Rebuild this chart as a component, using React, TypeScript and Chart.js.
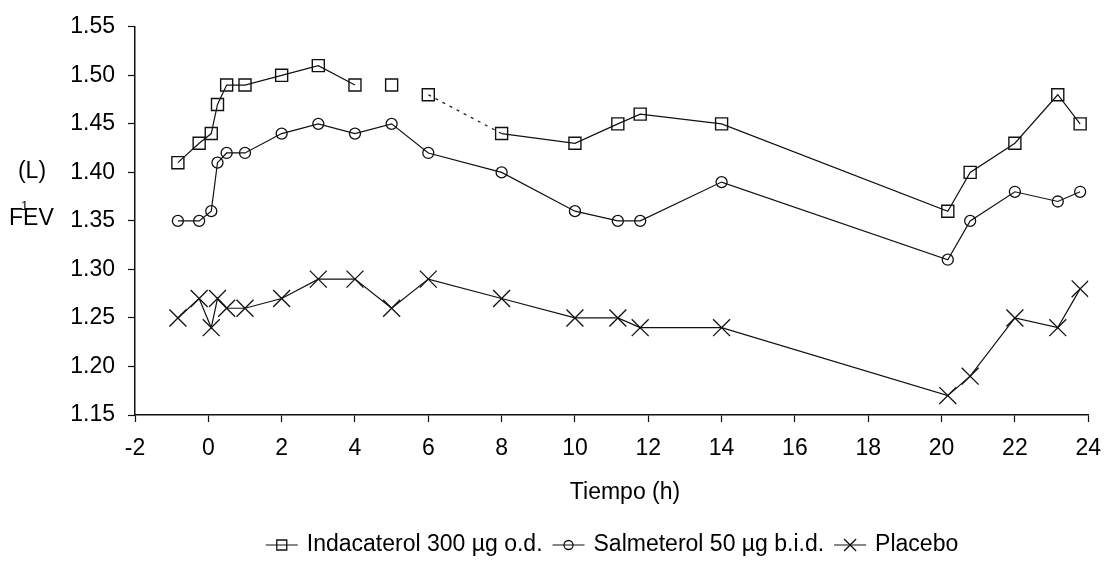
import React, { useEffect, useRef } from 'react';
import { Chart, registerables } from 'chart.js';

Chart.register(...registerables);

// ---- data ----
const timeHours = [-0.83, -0.25, 0.08, 0.25, 0.5, 1, 2, 3, 4, 5, 6, 8, 10, 11.17, 11.78, 14, 20.17, 20.78, 22, 23.17, 23.78];
const indacaterol = [1.41, 1.43, 1.44, 1.47, 1.49, 1.49, 1.5, 1.51, 1.49, 1.49, 1.48, 1.44, 1.43, 1.45, 1.46, 1.45, 1.36, 1.4, 1.43, 1.48, 1.45];
const salmeterol = [1.35, 1.35, 1.36, 1.41, 1.42, 1.42, 1.44, 1.45, 1.44, 1.45, 1.42, 1.4, 1.36, 1.35, 1.35, 1.39, 1.31, 1.35, 1.38, 1.37, 1.38];
const placebo = [1.25, 1.27, 1.24, 1.27, 1.26, 1.26, 1.27, 1.29, 1.29, 1.26, 1.29, 1.27, 1.25, 1.25, 1.24, 1.24, 1.17, 1.19, 1.25, 1.24, 1.28];
const seriesLabels = ['Indacaterol 300 µg o.d.', 'Salmeterol 50 µg b.i.d.', 'Placebo'];
const xAxisMin = -2;
const xAxisMax = 24;
const xAxisStep = 2;
const yAxisMin = 1.15;
const yAxisMax = 1.55;
const yAxisStep = 0.05;
const xTitle = 'Tiempo (h)';
const yTitleUnit = '(L)';
const yTitleMain = 'FEV';
const yTitleSub = '1';

const FONT = '"Liberation Sans", Arial, sans-serif';
const FS = 23;
const INK = '#111';

function toPoints(ys: number[]) {
  return ys.map((y, i) => ({ x: timeHours[i], y }));
}

function drawMarker(ctx: CanvasRenderingContext2D, style: string, x: number, y: number, s: number) {
  ctx.beginPath();
  if (style === 'rect') {
    ctx.rect(x - s / 2, y - s / 2, s, s);
  } else if (style === 'circle') {
    ctx.arc(x, y, s / 2, 0, Math.PI * 2);
  } else {
    const h = s / 2;
    ctx.moveTo(x - h, y - h);
    ctx.lineTo(x + h, y + h);
    ctx.moveTo(x + h, y - h);
    ctx.lineTo(x - h, y + h);
  }
  ctx.stroke();
}

const annotationsPlugin = {
  id: 'annotations',
  afterDraw(chart: any) {
    const ctx: CanvasRenderingContext2D = chart.ctx;
    ctx.save();
    ctx.fillStyle = '#000';
    ctx.strokeStyle = INK;

    // y-axis title
    ctx.font = `${FS}px ${FONT}`;
    ctx.textBaseline = 'middle';
    ctx.textAlign = 'center';
    ctx.fillText(yTitleUnit, 32, 172);
    ctx.textAlign = 'left';
    ctx.fillText(yTitleMain, 9, 219);
    ctx.font = `13px ${FONT}`;
    ctx.fillText(yTitleSub, 21, 206);

    // x-axis title
    ctx.font = `${FS}px ${FONT}`;
    ctx.textAlign = 'center';
    ctx.fillText(xTitle, 625, 493);

    // legend
    const glyphW = 32;
    const textGap = 9;
    const itemGap = 10;
    const styles = ['rect', 'circle', 'cross'];
    const sizes = [10, 9, 12];
    ctx.font = `${FS}px ${FONT}`;
    const widths = seriesLabels.map((l) => ctx.measureText(l).width);
    const total = widths.reduce((a, b) => a + b, 0) + seriesLabels.length * (glyphW + textGap) + (seriesLabels.length - 1) * itemGap;
    let x = 612 - total / 2;
    const ly = 545;
    ctx.textAlign = 'left';
    seriesLabels.forEach((label, i) => {
      ctx.lineWidth = 1.2;
      ctx.beginPath();
      ctx.moveTo(x, ly);
      ctx.lineTo(x + glyphW, ly);
      ctx.stroke();
      ctx.lineWidth = 1.3;
      drawMarker(ctx, styles[i], x + glyphW / 2, ly, sizes[i]);
      x += glyphW + textGap;
      ctx.fillText(label, x, ly);
      x += widths[i] + itemGap;
    });
    ctx.restore();
  },
};

export default function App() {
  const canvasRef = useRef<HTMLCanvasElement | null>(null);

  useEffect(() => {
    if (!canvasRef.current) return;
    const chart = new Chart(canvasRef.current, {
      type: 'line',
      data: {
        datasets: [
          {
            label: seriesLabels[0],
            data: toPoints(indacaterol),
            borderColor: INK,
            borderWidth: 1.2,
            pointStyle: 'rect',
            pointRadius: 8.5,
            pointBorderWidth: 1.4,
            pointBorderColor: INK,
            pointBackgroundColor: 'rgba(0,0,0,0)',
            segment: {
              borderColor: (c: any) => (c.p0DataIndex === 8 || c.p0DataIndex === 9 ? 'rgba(0,0,0,0)' : undefined),
              borderDash: (c: any) => (c.p0DataIndex === 10 ? [3, 5] : undefined),
            },
          },
          {
            label: seriesLabels[1],
            data: toPoints(salmeterol),
            borderColor: INK,
            borderWidth: 1.2,
            pointStyle: 'circle',
            pointRadius: 5.5,
            pointBorderWidth: 1.3,
            pointBorderColor: INK,
            pointBackgroundColor: 'rgba(0,0,0,0)',
          },
          {
            label: seriesLabels[2],
            data: toPoints(placebo),
            borderColor: INK,
            borderWidth: 1.2,
            pointStyle: 'crossRot',
            pointRadius: 12,
            pointBorderWidth: 1.3,
            pointBorderColor: INK,
          },
        ],
      },
      options: {
        animation: false,
        responsive: true,
        maintainAspectRatio: false,
        layout: { padding: { left: 0, top: 22, right: 17, bottom: 0 } },
        plugins: {
          legend: { display: false },
          tooltip: { enabled: false },
        },
        scales: {
          x: {
            type: 'linear',
            min: xAxisMin,
            max: xAxisMax,
            afterFit: (scale: any) => {
              scale.height = 146;
            },
            ticks: {
              stepSize: xAxisStep,
              color: '#000',
              font: { family: FONT, size: FS },
              padding: 13,
              maxRotation: 0,
              autoSkip: false,
            },
            grid: {
              drawOnChartArea: false,
              drawTicks: true,
              tickLength: 7,
              tickColor: INK,
              tickWidth: 1.2,
            },
            border: { display: true, color: INK, width: 1.5 },
          },
          y: {
            type: 'linear',
            min: yAxisMin,
            max: yAxisMax,
            afterFit: (scale: any) => {
              scale.width = 135;
            },
            ticks: {
              stepSize: yAxisStep,
              color: '#000',
              font: { family: FONT, size: FS },
              padding: 13,
              callback: (v: any) => Number(v).toFixed(2),
            },
            grid: {
              drawOnChartArea: false,
              drawTicks: true,
              tickLength: 7,
              tickColor: INK,
              tickWidth: 1.2,
            },
            border: { display: true, color: INK, width: 1.5 },
          },
        },
      },
      plugins: [annotationsPlugin],
    });
    return () => chart.destroy();
  }, []);

  return (
    <div style={{ position: 'fixed', left: 0, top: 0, width: 1114, height: 561, background: '#fff' }}>
      <canvas ref={canvasRef} />
    </div>
  );
}
